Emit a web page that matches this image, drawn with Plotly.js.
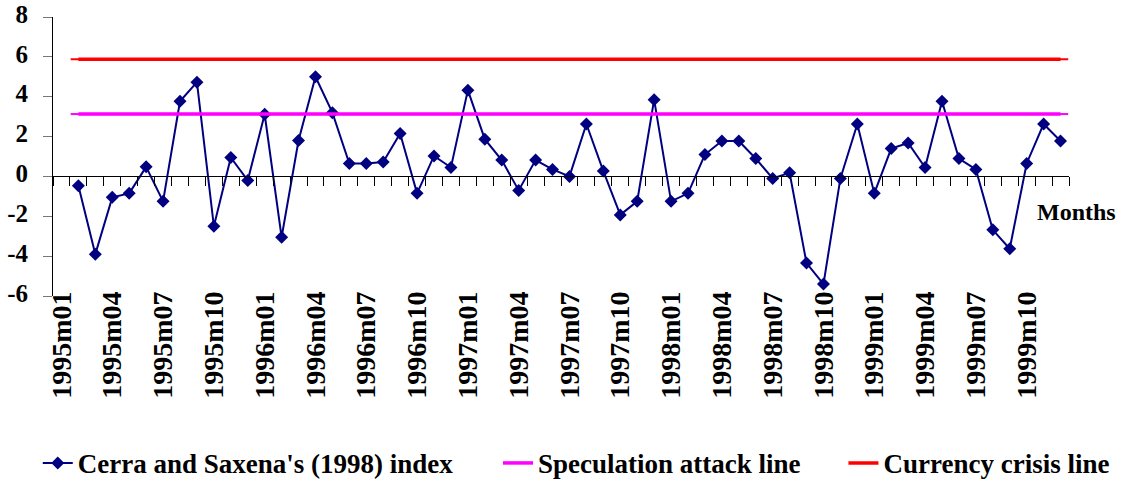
<!DOCTYPE html>
<html>
<head>
<meta charset="utf-8">
<script src="https://cdn.plot.ly/plotly-3.0.1.min.js"></script>
<style>html,body{margin:0;padding:0;background:#fff;}#chart{width:1122px;height:481px;}</style>
</head>
<body>
<div id="chart"></div>
<script>
const months = [
  "1995m01","1995m02","1995m03","1995m04","1995m05","1995m06","1995m07","1995m08","1995m09","1995m10","1995m11","1995m12",
  "1996m01","1996m02","1996m03","1996m04","1996m05","1996m06","1996m07","1996m08","1996m09","1996m10","1996m11","1996m12",
  "1997m01","1997m02","1997m03","1997m04","1997m05","1997m06","1997m07","1997m08","1997m09","1997m10","1997m11","1997m12",
  "1998m01","1998m02","1998m03","1998m04","1998m05","1998m06","1998m07","1998m08","1998m09","1998m10","1998m11","1998m12",
  "1999m01","1999m02","1999m03","1999m04","1999m05","1999m06","1999m07","1999m08","1999m09","1999m10","1999m11","1999m12"
];
// Index starts in 1995m02 (first month has no value)
const indexValues = [null,
  -0.47, -3.9, -1.05, -0.85, 0.48, -1.25, 3.77, 4.73, -2.5, 0.95,
  -0.2, 3.12, -3.05, 1.8, 5.0, 3.2, 0.65, 0.65, 0.72, 2.15,
  -0.85, 1.03, 0.45, 4.33, 1.87, 0.82, -0.7, 0.82, 0.35, 0.0,
  2.63, 0.27, -1.93, -1.25, 3.85, -1.25, -0.85, 1.1, 1.78, 1.78,
  0.9, -0.1, 0.18, -4.35, -5.4, -0.1, 2.63, -0.85, 1.4, 1.68,
  0.45, 3.77, 0.9, 0.35, -2.68, -3.63, 0.65, 2.63, 1.78
];
const lineMonths = months.slice(1);
const speculationLevel = 3.13;
const crisisLevel = 5.88;
const speculationValues = lineMonths.map(() => speculationLevel);
const crisisValues = lineMonths.map(() => crisisLevel);
const tickLabels = ["1995m01","1995m04","1995m07","1995m10","1996m01","1996m04","1996m07","1996m10",
  "1997m01","1997m04","1997m07","1997m10","1998m01","1998m04","1998m07","1998m10",
  "1999m01","1999m04","1999m07","1999m10"];
const yTickVals = [-6, -4, -2, 0, 2, 4, 6, 8];
const yTickText = ["-6", "-4", "-2", "0", "2", "4", "6", "8"];

const serif = '"Liberation Serif", "Times New Roman", Times, serif';
const boldFont = (size) => ({family: serif, size: size, color: "#000", weight: "bold"});

const traces = [
  {
    x: months, y: indexValues, xaxis: "x", yaxis: "y",
    type: "scatter", mode: "lines+markers",
    name: "Cerra and Saxena's (1998) index",
    line: {color: "#000080", width: 2},
    marker: {symbol: "diamond", size: 10, color: "#000080"},
    legend: "legend"
  },
  {
    x: lineMonths, y: speculationValues, xaxis: "x2", yaxis: "y",
    type: "scatter", mode: "lines+markers",
    name: "Speculation attack line",
    line: {color: "#FF00FF", width: 3.5},
    marker: {symbol: "line-ew", size: 11, line: {color: "#FF00FF", width: 2}},
    legend: "legend2"
  },
  {
    x: lineMonths, y: crisisValues, xaxis: "x2", yaxis: "y",
    type: "scatter", mode: "lines+markers",
    name: "Currency crisis line",
    line: {color: "#FF0000", width: 3.5},
    marker: {symbol: "line-ew", size: 11, line: {color: "#FF0000", width: 2}},
    legend: "legend3"
  }
];

const legendBase = {orientation: "h", yanchor: "middle", xanchor: "left", y: -0.6,
  font: boldFont(27), bgcolor: "rgba(0,0,0,0)"};

const layout = {
  width: 1122, height: 481,
  margin: {l: 53, r: 53, t: 17, b: 185, autoexpand: false},
  paper_bgcolor: "#fff", plot_bgcolor: "#fff",
  showlegend: true,
  xaxis: {
    type: "category", categoryorder: "array", categoryarray: months,
    range: [-0.5, 59.5], anchor: "free", position: 0.04,
    showline: false, showgrid: false, zeroline: false, ticks: "",
    tickmode: "array", tickvals: tickLabels, ticktext: tickLabels,
    tickangle: -90, tickfont: boldFont(28), automargin: false
  },
  xaxis2: {
    type: "category", categoryorder: "array", categoryarray: months,
    overlaying: "x", anchor: "free", position: 6/14,
    range: [-0.5, 59.5], showline: true, linecolor: "#000", linewidth: 1,
    ticks: "outside", tickson: "boundaries", tickmode: "linear", tick0: 0, dtick: 1,
    ticklen: 9, tickcolor: "#000", tickwidth: 1,
    showticklabels: false, showgrid: false, zeroline: false, automargin: false
  },
  yaxis: {
    range: [-6, 8], tickmode: "array", tickvals: yTickVals, ticktext: yTickText, anchor: "x",
    showline: true, linecolor: "#000", linewidth: 1,
    ticks: "outside", ticklen: 9, tickcolor: "#777", tickwidth: 1,
    ticklabelstandoff: 10, ticklabelshift: -3,
    showgrid: false, zeroline: false, tickfont: boldFont(25), automargin: false
  },
  legend: Object.assign({}, legendBase, {x: -0.015}),
  legend2: Object.assign({}, legendBase, {x: 0.438}),
  legend3: Object.assign({}, legendBase, {x: 0.778}),
  annotations: [{
    text: "Months", xref: "paper", yref: "y", x: 1.007, y: -1.8,
    xanchor: "center", yanchor: "middle", showarrow: false, font: boldFont(24)
  }]
};

Plotly.newPlot("chart", traces, layout, {displayModeBar: false, staticPlot: true});
</script>
</body>
</html>
